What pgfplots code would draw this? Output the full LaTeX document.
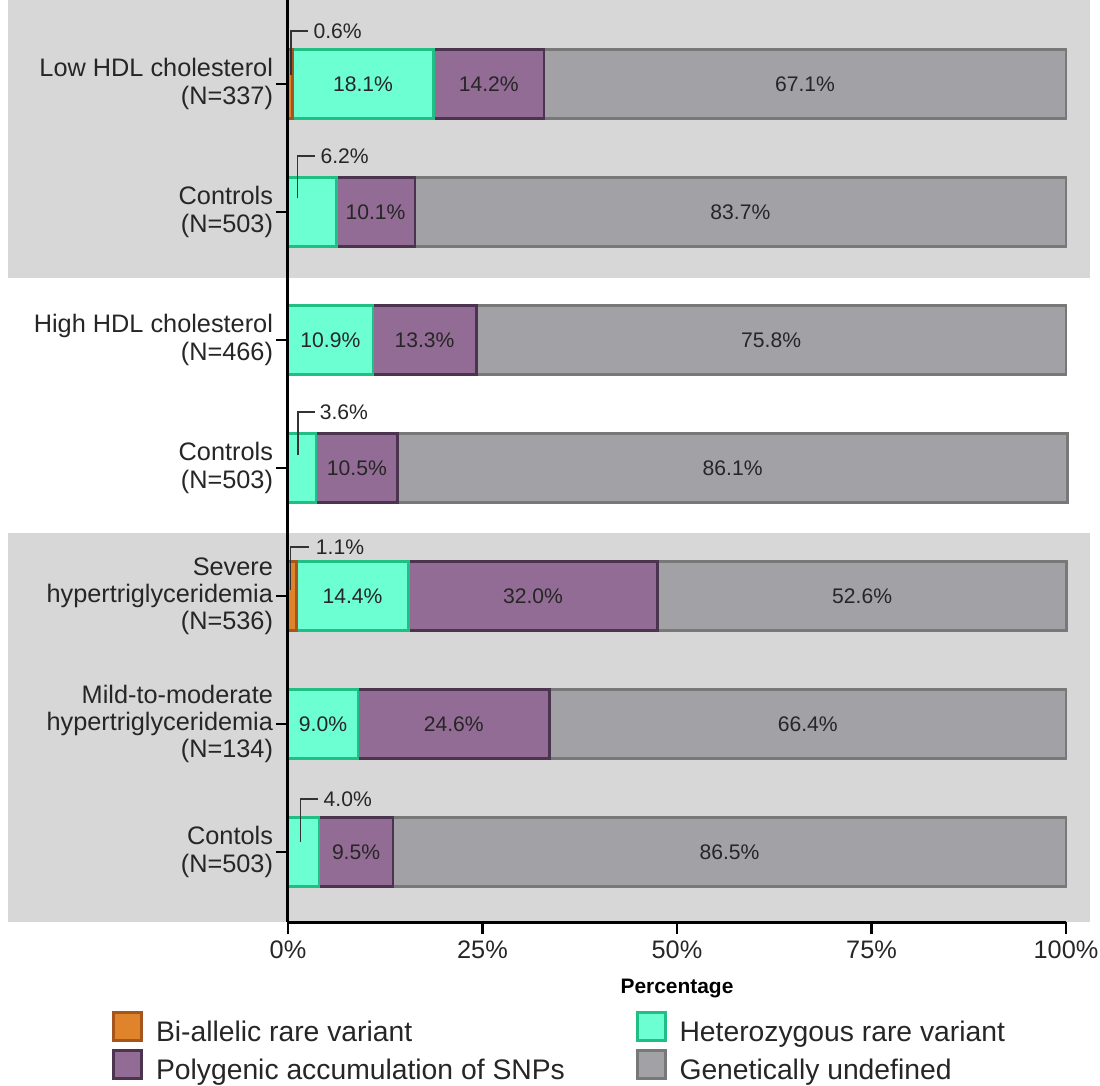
\documentclass[border=0pt]{standalone}
\usepackage{fontspec}
\setmainfont{Liberation Sans}
\usepackage{pgfplots}
\pgfplotsset{compat=1.18}
\usepackage{pgfplotstable}

\definecolor{cOr}{HTML}{E0842C}
\definecolor{cOrD}{HTML}{A4561C}
\definecolor{cGr}{HTML}{6CFFD2}
\definecolor{cGrD}{HTML}{1FBF86}
\definecolor{cPu}{HTML}{926C94}
\definecolor{cPuD}{HTML}{4A3450}
\definecolor{cGy}{HTML}{A2A1A5}
\definecolor{cGyD}{HTML}{787878}
\definecolor{cBand}{HTML}{D7D7D7}

% segment values (row y: 0 = top category)
\pgfplotstableread{
y v
0 0.6
1 0
2 0
3 0
4 1.1
5 0
6 0
}\tblOr
\pgfplotstableread{
y v
0 18.1
1 6.2
2 10.9
3 3.6
4 14.4
5 9.0
6 4.0
}\tblGr
\pgfplotstableread{
y v
0 14.2
1 10.1
2 13.3
3 10.5
4 32.0
5 24.6
6 9.5
}\tblPu
\pgfplotstableread{
y v
0 67.1
1 83.7
2 75.8
3 86.1
4 52.6
5 66.4
6 86.5
}\tblGy
% in-bar labels: y, segment start s, value v
\pgfplotstableread{
y s v
0 0.6 18.1
2 0 10.9
4 1.1 14.4
5 0 9.0
0 18.7 14.2
1 6.2 10.1
2 10.9 13.3
3 3.6 10.5
4 15.5 32.0
5 9.0 24.6
6 4.0 9.5
0 32.9 67.1
1 16.3 83.7
2 24.2 75.8
3 14.1 86.1
4 47.5 52.6
5 33.6 66.4
6 13.5 86.5
}\tblLab

\pgfplotsset{common/.style={
  at={(0,0)}, anchor=south west,
  scale only axis,
  width=389bp, height=461bp,
  y dir=reverse,
  xmin=0, xmax=100,
  ymin=-0.656, ymax=6.547,
  clip=false}}

\begin{document}
\begin{tikzpicture}
\useasboundingbox (-144bp,-82bp) rectangle (406bp,461bp);
% background bands
\begin{axis}[common, hide axis]
\fill[cBand] (axis cs:-36.0,-0.656) rectangle (axis cs:103.1,1.516);
\fill[cBand] (axis cs:-36.0,3.508) rectangle (axis cs:103.1,6.547);
\end{axis}

\begin{axis}[
  common,
  xbar stacked,
  bar width=0.54,
  axis x line*=bottom,
  axis y line*=left,
  axis line style={line width=1.5bp, black},
  axis on top,
  tick align=outside,
  major tick length=6bp,
  tick style={line width=1.3bp, black},
  xtick={0,25,50,75,100},
  xticklabels={0\%,25\%,50\%,75\%,100\%},
  ytick={0,1,2,3,4,5,6},
  yticklabels={{Low HDL cholesterol\\(N=337)},{Controls\\(N=503)},{High HDL cholesterol\\(N=466)},{Controls\\(N=503)},{Severe\\hypertriglyceridemia\\(N=536)},{Mild-to-moderate\\hypertriglyceridemia\\(N=134)},{Contols\\(N=503)}},
  yticklabel style={align=right, font=\fontsize{12.7}{13.6}\selectfont, text=black!85, xshift=2bp},
  xticklabel style={font=\fontsize{12.7}{14}\selectfont, text=black!85},
  xlabel={Percentage},
  xlabel style={font=\bfseries\fontsize{10.5}{12}\selectfont, at={(axis description cs:0.5,-0.0725)}, anchor=center},
  legend columns=2,
  legend cell align=left,
  legend style={draw=none, fill=none, at={(axis description cs:-0.2262,-0.096)}, anchor=north west,
    font=\fontsize{14.2}{16}\selectfont, inner sep=0pt,
    nodes={inner sep=0pt, text height=10.2bp, text depth=3bp, text=black!85},
    /tikz/every odd column/.append style={column sep=6.5bp},
    /tikz/every even column/.append style={column sep=35.5bp},
    row sep=1bp},
  legend image code/.code={\draw[#1, line width=1.3bp] (0bp,-3bp) rectangle (14bp,11bp);},
]
\addplot[fill=cOr, draw=cOrD, line width=1.3bp] table[x=v, y=y]{\tblOr};
\addlegendentry{Bi-allelic rare variant}
\addplot[fill=cGr, draw=cGrD, line width=1.3bp] table[x=v, y=y]{\tblGr};
\addlegendentry{Heterozygous rare variant}
\addplot[fill=cPu, draw=cPuD, line width=1.3bp] table[x=v, y=y]{\tblPu};
\addlegendentry{Polygenic accumulation of SNPs}
\addplot[fill=cGy, draw=cGyD, line width=1.3bp] table[x=v, y=y]{\tblGy};
\addlegendentry{Genetically undefined}
\end{axis}

\begin{axis}[common, hide axis]
\addplot[draw=none, mark=none, nodes near coords={\pgfplotspointmeta\%}, point meta=explicit symbolic,
  every node near coord/.style={anchor=center, inner sep=0pt, font=\fontsize{10.6}{12}\selectfont, text=black!85}]
  table[x expr=\thisrow{s}+\thisrow{v}/2, y=y, meta=v]{\tblLab};
\begin{scope}[line width=0.7bp, black!80]
\draw (axis cs:0.39,-0.07) |- (axis cs:2.57,-0.414);
\node[anchor=west, inner sep=0pt, font=\fontsize{10.6}{12}\selectfont, text=black!85] at (axis cs:3.2,-0.414) {0.6\%};
\draw (axis cs:1.25,0.89) |- (axis cs:3.47,0.5625);
\node[anchor=west, inner sep=0pt, font=\fontsize{10.6}{12}\selectfont, text=black!85] at (axis cs:4.1,0.5625) {6.2\%};
\draw (axis cs:1.29,2.90) |- (axis cs:3.47,2.5625);
\node[anchor=west, inner sep=0pt, font=\fontsize{10.6}{12}\selectfont, text=black!85] at (axis cs:4.0,2.5625) {3.6\%};
\draw (axis cs:0.35,3.953) |- (axis cs:2.7,3.617);
\node[anchor=west, inner sep=0pt, font=\fontsize{10.6}{12}\selectfont, text=black!85] at (axis cs:3.5,3.617) {1.1\%};
\draw (axis cs:1.63,5.922) |- (axis cs:3.86,5.586);
\node[anchor=west, inner sep=0pt, font=\fontsize{10.6}{12}\selectfont, text=black!85] at (axis cs:4.5,5.586) {4.0\%};
\end{scope}
\end{axis}
\end{tikzpicture}
\end{document}
